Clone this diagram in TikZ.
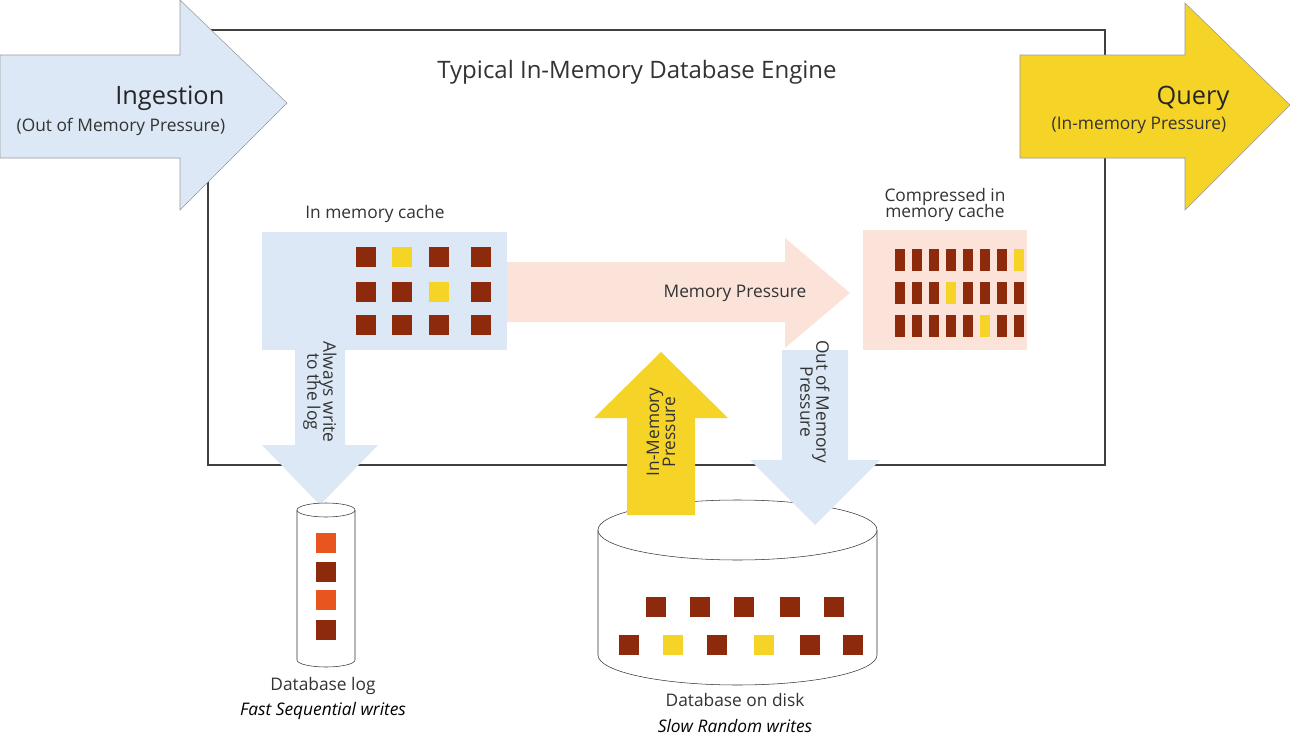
\documentclass[tikz,border=0pt]{standalone}
\usepackage{fontspec}
\setmainfont{Open Sans}
\begin{document}
\begin{tikzpicture}[x=0.75pt,y=-0.75pt,
  lbl/.style={font=\fontsize{13}{15}\selectfont,text=black!80,align=center},
  sq/.style={minimum size=15pt,inner sep=0,draw=none},
  bar/.style={minimum width=7pt,minimum height=16pt,inner sep=0,draw=none}]
\definecolor{lblue}{HTML}{DCE8F5}
\definecolor{lpink}{HTML}{FBE3DA}
\definecolor{yel}{HTML}{F5D327}
\definecolor{brn}{HTML}{8E2A0C}
\definecolor{org}{HTML}{E8551E}
\useasboundingbox (0,0) rectangle (1290,753);
\fill[white] (0,0) rectangle (1290,753);
% main box
\draw[black!75,line width=1pt] (208,30) rectangle (1105,465);
\node[font=\fontsize{18}{20}\selectfont,text=black!80] (title) at (637,72) {Typical In-Memory Database Engine};
% ingestion arrow
\draw[fill=lblue,draw=black!40] (0,55) -- (180,55) -- (180,0) -- (287,103) -- (180,210) -- (180,158) -- (0,158) -- cycle;
\node[anchor=east,font=\fontsize{19}{21}\selectfont,text=black!85] (ing) at (229,98) {Ingestion};
\node[lbl,anchor=east] (ing2) at (230,127) {(Out of Memory Pressure)};
% query arrow
\draw[fill=yel,draw=black!40] (1020,55) -- (1185,55) -- (1185,3) -- (1290,105) -- (1185,210) -- (1185,158) -- (1020,158) -- cycle;
\node[anchor=east,font=\fontsize{19}{21}\selectfont,text=black!85] (qry) at (1234,98) {Query};
\node[lbl,anchor=east] (qry2) at (1231,125) {(In-memory Pressure)};
% in memory cache
\node[lbl] (cachel) at (375,214) {In memory cache};
\fill[lblue] (262,232) rectangle (507,350);
\foreach \x/\a/\b/\c in {366/brn/brn/brn,402/yel/brn/brn,439/brn/yel/brn,481/brn/brn/brn}{
  \node[sq,fill=\a] at (\x,257) {};
  \node[sq,fill=\b] at (\x,292) {};
  \node[sq,fill=\c] at (\x,325) {};
}
% memory pressure arrow
\fill[lpink] (507,262) -- (785,262) -- (785,238) -- (850,293) -- (785,348) -- (785,322) -- (507,322) -- cycle;
\node[lbl] (mp) at (735,293) {Memory Pressure};
% compressed
\node[lbl] (compl) at (945,205) {Compressed in\\[-3pt]memory cache};
\fill[lpink] (863,230) rectangle (1027,350);
\foreach \i in {0,...,7}{
  \pgfmathsetmacro\xx{900+\i*17}
  \pgfmathsetmacro\ca{\i==7?1:0}
  \pgfmathsetmacro\cb{\i==3?1:0}
  \pgfmathsetmacro\cc{\i==5?1:0}
  \ifdim\ca pt>0.5pt \def\colA{yel}\else\def\colA{brn}\fi
  \ifdim\cb pt>0.5pt \def\colB{yel}\else\def\colB{brn}\fi
  \ifdim\cc pt>0.5pt \def\colC{yel}\else\def\colC{brn}\fi
  \node[bar,fill=\colA] at (\xx,260) {};
  \node[bar,fill=\colB] at (\xx,293) {};
  \node[bar,fill=\colC] at (\xx,326) {};
}
% log arrow
\fill[lblue] (295,350) -- (345,350) -- (345,445) -- (378,445) -- (320,505) -- (262,445) -- (295,445) -- cycle;
\node[lbl,rotate=-90] (alw) at (320,392) {Always write\\[-3pt]to the log};
% log cylinder
\draw[black!80,fill=white] (297,510) -- (297,660) arc[start angle=180,end angle=0,x radius=29,y radius=7] -- (355,510);
\draw[black!80,fill=white] (326,510) ellipse[x radius=29,y radius=7];
\foreach \y/\c in {543/org,572/brn,600/org,630/brn}{\node[sq,fill=\c] at (326,\y) {};}
\node[lbl] (dbl) at (323,686) {Database log};
\node[lbl,font=\fontsize{13}{15}\selectfont\itshape,text=black] (dbl2) at (323,711) {Fast Sequential writes};
% disk cylinder
\draw[black!80,fill=white] (598,530) -- (598,655) arc[start angle=180,end angle=0,x radius=139.5,y radius=30] -- (877,530);
\draw[black!80,fill=white] (737.5,530) ellipse[x radius=139.5,y radius=30];
\foreach \x in {656,700,744,790,834}{\node[sq,fill=brn] at (\x,607) {};}
\foreach \x/\c in {629/brn,673/yel,717/brn,764/yel,810/brn,853/brn}{\node[sq,fill=\c] at (\x,645) {};}
\node[lbl] (dbd) at (735,700) {Database on disk};
\node[lbl,font=\fontsize{13}{15}\selectfont\itshape,text=black] (dbd2) at (735,726) {Slow Random writes};
% up yellow arrow
\fill[yel] (627,515) -- (627,418) -- (594,418) -- (661,352) -- (728,418) -- (695,418) -- (695,515) -- cycle;
\node[lbl,rotate=90] (imp) at (661,432) {In-Memory\\[-3pt]Pressure};
% down blue arrow
\fill[lblue] (782,350) -- (848,350) -- (848,460) -- (880,460) -- (815,525) -- (750,460) -- (782,460) -- cycle;
\node[lbl,rotate=-90] (oomp) at (815,402) {Out of Memory\\[-3pt]Pressure};
\end{tikzpicture}
\end{document}
